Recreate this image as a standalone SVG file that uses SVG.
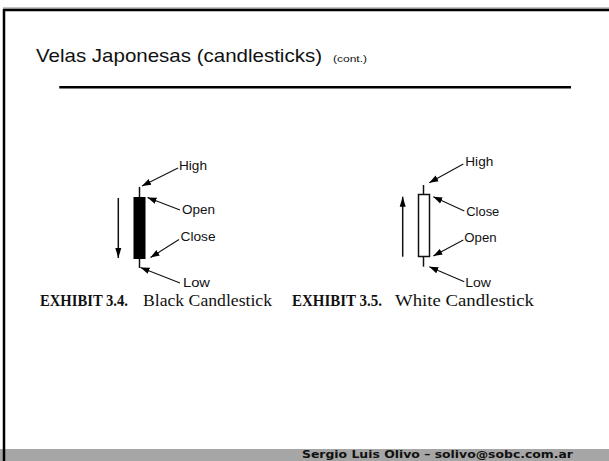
<svg xmlns="http://www.w3.org/2000/svg" width="609" height="461" viewBox="0 0 609 461">
  <defs>
    <marker id="ah" markerUnits="userSpaceOnUse" markerWidth="10" markerHeight="8" viewBox="0 0 10 8" refX="9" refY="4" orient="auto">
      <path d="M0,0.8 L9,4 L0,7.2 Z" fill="#000"/>
    </marker>
    <marker id="ahBig" markerUnits="userSpaceOnUse" markerWidth="10" markerHeight="8" viewBox="0 0 10 8" refX="10" refY="4" orient="auto">
      <path d="M0,1 L10,4 L0,7 Z" fill="#000"/>
    </marker>
  </defs>
  <style>
    .lbl { font-family: "Liberation Sans", Arial, sans-serif; font-size: 12.5px; fill: #111; }
    .cap { font-family: "Liberation Serif", "Times New Roman", serif; font-size: 16px; fill: #111; }
    .capb { font-weight: bold; }
    .conn line { stroke: #111; stroke-width: 1.1; }
    .trend { stroke: #111; stroke-width: 1.5; }
  </style>
  <rect x="0" y="0" width="609" height="461" fill="#fff"/>
  <g id="frame">
    <line x1="3" y1="8" x2="609" y2="8" stroke="#888" stroke-width="1"/>
    <line x1="3" y1="10" x2="609" y2="10" stroke="#000" stroke-width="2.5"/>
    <rect x="0" y="449" width="609" height="12" fill="#a6a6a6"/>
    <line x1="4" y1="9" x2="4" y2="461" stroke="#000" stroke-width="2.5"/>
    <text x="302" y="458" textLength="271" lengthAdjust="spacingAndGlyphs" font-family="'DejaVu Sans', Verdana, sans-serif" font-weight="bold" font-size="10.5" fill="#111">Sergio Luis Olivo – solivo@sobc.com.ar</text>
  </g>
  <g id="title">
    <text x="36" y="62" textLength="286" lengthAdjust="spacingAndGlyphs" font-family="'Liberation Sans', Arial, sans-serif" font-size="18.6" fill="#111">Velas Japonesas (candlesticks)</text>
    <text x="333" y="62" textLength="34" lengthAdjust="spacingAndGlyphs" font-family="'Liberation Sans', Arial, sans-serif" font-size="9" fill="#111">(cont.)</text>
    <line x1="59.3" y1="87.3" x2="571" y2="87.3" stroke="#000" stroke-width="2.5"/>
  </g>
  <g id="black-candle">
    <line x1="139.5" y1="187" x2="139.5" y2="268" stroke="#111" stroke-width="1.5"/>
    <rect x="133.5" y="197" width="12" height="62" fill="#000"/>
    <line class="trend" x1="118.3" y1="198" x2="118.3" y2="258" marker-end="url(#ahBig)"/>
    <text class="lbl" x="179" y="170" textLength="28" lengthAdjust="spacingAndGlyphs">High</text>
    <text class="lbl" x="182" y="214" textLength="33" lengthAdjust="spacingAndGlyphs">Open</text>
    <text class="lbl" x="180.5" y="240.5" textLength="35" lengthAdjust="spacingAndGlyphs">Close</text>
    <text class="lbl" x="183" y="287" textLength="27" lengthAdjust="spacingAndGlyphs">Low</text>
  </g>
  <g id="white-candle">
    <line x1="423.5" y1="185" x2="423.5" y2="266.7" stroke="#111" stroke-width="1.5"/>
    <rect x="418.5" y="194.5" width="11" height="62" fill="#fff" stroke="#111" stroke-width="1.5"/>
    <line class="trend" x1="402.7" y1="256.7" x2="402.7" y2="196.7" marker-end="url(#ahBig)"/>
    <text class="lbl" x="465.3" y="166" textLength="28" lengthAdjust="spacingAndGlyphs">High</text>
    <text class="lbl" x="466.3" y="215.7" textLength="33" lengthAdjust="spacingAndGlyphs">Close</text>
    <text class="lbl" x="464.3" y="241.7" textLength="32.3" lengthAdjust="spacingAndGlyphs">Open</text>
    <text class="lbl" x="465.3" y="287" textLength="25.7" lengthAdjust="spacingAndGlyphs">Low</text>
  </g>
  <g id="connectors" class="conn">
    <line x1="178" y1="168" x2="142" y2="186" marker-end="url(#ah)"/>
    <line x1="180" y1="210" x2="147.5" y2="197.5" marker-end="url(#ah)"/>
    <line x1="179" y1="239.5" x2="150.5" y2="257.5" marker-end="url(#ah)"/>
    <line x1="180" y1="283" x2="140.5" y2="267.5" marker-end="url(#ah)"/>
    <line x1="463.3" y1="164" x2="429.3" y2="182.7" marker-end="url(#ah)"/>
    <line x1="464.3" y1="211" x2="433.3" y2="196.7" marker-end="url(#ah)"/>
    <line x1="463.3" y1="240" x2="433.3" y2="256" marker-end="url(#ah)"/>
    <line x1="464.3" y1="281.7" x2="429.3" y2="266.7" marker-end="url(#ah)"/>
  </g>
  <g id="captions">
    <text class="cap capb" x="40" y="306" textLength="88" lengthAdjust="spacingAndGlyphs">EXHIBIT 3.4.</text>
    <text class="cap" x="143" y="306" textLength="129" lengthAdjust="spacingAndGlyphs">Black Candlestick</text>
    <text class="cap capb" x="292" y="306" textLength="90" lengthAdjust="spacingAndGlyphs">EXHIBIT 3.5.</text>
    <text class="cap" x="395" y="306" textLength="139" lengthAdjust="spacingAndGlyphs">White Candlestick</text>
  </g>
</svg>
